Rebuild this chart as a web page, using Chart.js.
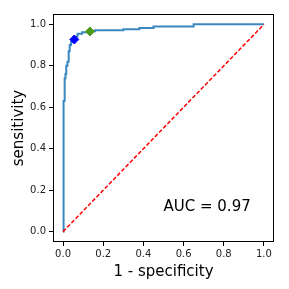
<!DOCTYPE html>
<html>
<head>
<meta charset="utf-8">
<script src="https://cdn.jsdelivr.net/npm/chart.js@4"></script>
<style>
  html, body { margin: 0; padding: 0; background: #fff; }
  #roc { display: block; }
</style>
</head>
<body>
<canvas id="roc" width="289" height="289"></canvas>
<script>
// ROC curve (step curve)
const fpr = [0, 0, 0.004, 0.004, 0.008, 0.008, 0.012, 0.012, 0.016, 0.016, 0.022, 0.022,
  0.028, 0.028, 0.033, 0.033, 0.040, 0.040, 0.050, 0.050, 0.062, 0.062, 0.072, 0.072,
  0.095, 0.095, 0.130, 0.130, 0.160, 0.160, 0.300, 0.300, 0.380, 0.380, 0.450, 0.450,
  0.650, 0.650, 1.0];
const tpr = [0, 0.417, 0.417, 0.63, 0.63, 0.74, 0.74, 0.76, 0.76, 0.80, 0.80, 0.82,
  0.82, 0.87, 0.87, 0.90, 0.90, 0.915, 0.915, 0.93, 0.93, 0.94, 0.94, 0.955,
  0.955, 0.962, 0.962, 0.967, 0.967, 0.971, 0.971, 0.976, 0.976, 0.982, 0.982, 0.99,
  0.99, 1.0, 1.0];
const chancePts = [0, 1];
const bluePt = [0.056, 0.927];
const greenPt = [0.134, 0.966];
const tickVals = [0, 0.2, 0.4, 0.6, 0.8, 1.0];
const aucText = 'AUC = 0.97';

const font = "'DejaVu Sans', sans-serif";

const boxPlugin = {
  id: 'box',
  afterDraw(chart) {
    const { ctx, chartArea: a, scales } = chart;
    ctx.save();
    ctx.strokeStyle = '#000';
    ctx.lineWidth = 1;
    ctx.strokeRect(a.left + 0.5, a.top + 0.5, a.right - a.left - 1, a.bottom - a.top - 1);
    ctx.fillStyle = '#000';
    ctx.font = '15px ' + font;
    ctx.textBaseline = 'alphabetic';
    ctx.textAlign = 'left';
    ctx.fillText(aucText, scales.x.getPixelForValue(0.5), scales.y.getPixelForValue(0.1));
    ctx.restore();
  }
};

new Chart(document.getElementById('roc').getContext('2d'), {
  type: 'line',
  data: {
    datasets: [
      {
        data: fpr.map((v, i) => ({ x: v, y: tpr[i] })),
        borderColor: '#3a88c0',
        borderWidth: 2,
        pointRadius: 0,
        tension: 0,
        order: 2
      },
      {
        data: chancePts.map(v => ({ x: v, y: v })),
        borderColor: '#ff0000',
        borderWidth: 1.5,
        borderDash: [4, 2],
        pointRadius: 0,
        order: 1
      },
      {
        data: [{ x: bluePt[0], y: bluePt[1] }],
        showLine: false,
        pointStyle: 'rectRot',
        pointRadius: 4.5,
        backgroundColor: '#0000ff',
        borderColor: '#0000ff',
        order: 0
      },
      {
        data: [{ x: greenPt[0], y: greenPt[1] }],
        showLine: false,
        pointStyle: 'rectRot',
        pointRadius: 4.5,
        backgroundColor: '#4c9a1a',
        borderColor: '#4c9a1a',
        order: 0
      }
    ]
  },
  options: {
    responsive: false,
    animation: false,
    layout: { padding: { top: 14, right: 15, left: 0, bottom: 0 } },
    plugins: { legend: { display: false }, tooltip: { enabled: false } },
    scales: {
      x: {
        type: 'linear',
        min: -0.05,
        max: 1.05,
        afterBuildTicks: s => { s.ticks = tickVals.map(v => ({ value: v })); },
        afterFit: s => { s.height = 47; },
        grid: { drawOnChartArea: false, drawTicks: true, tickLength: 4, color: '#000' },
        border: { display: false },
        ticks: { color: '#222', font: { family: font, size: 10 }, padding: 2, maxRotation: 0,
          callback: v => v.toFixed(1) },
        title: { display: true, text: '1 - specificity', color: '#000',
          font: { family: font, size: 15 }, padding: { top: 0, bottom: 8 } }
      },
      y: {
        type: 'linear',
        min: -0.05,
        max: 1.05,
        afterBuildTicks: s => { s.ticks = tickVals.map(v => ({ value: v })); },
        afterFit: s => { s.width = 53; },
        grid: { drawOnChartArea: false, drawTicks: true, tickLength: 4, color: '#000' },
        border: { display: false },
        ticks: { color: '#222', font: { family: font, size: 10 }, padding: 3,
          callback: v => v.toFixed(1) },
        title: { display: true, text: 'sensitivity', color: '#000',
          font: { family: font, size: 15 }, padding: { top: 10, bottom: 0 } }
      }
    }
  },
  plugins: [boxPlugin]
});
</script>
</body>
</html>
